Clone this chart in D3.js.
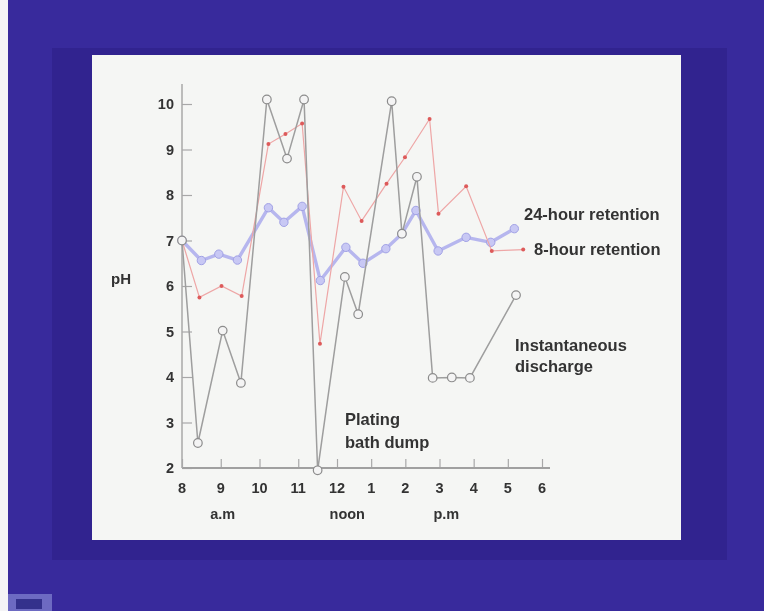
<!DOCTYPE html>
<html>
<head>
<meta charset="utf-8">
<script src="https://cdn.jsdelivr.net/npm/d3@7"></script>
<style>
  html, body { margin: 0; padding: 0; background: #382a9c; }
  svg { display: block; }
  text { font-family: "Liberation Sans", Arial, sans-serif; font-weight: bold; fill: #333; }
</style>
</head>
<body>
<div id="vis"></div>
<script>
const svgWidth = 764;
const svgHeight = 611;

// time of day in hours (13 = 1 pm), pH values
const instantTimes = [8.0, 8.41, 9.05, 9.52, 10.19, 10.71, 11.15, 11.5, 12.23, 12.62, 13.6, 13.9, 14.34, 14.8, 15.36, 15.89, 17.24];
const instantPH = [7.0, 2.55, 5.02, 3.87, 10.1, 8.8, 10.1, 1.95, 6.2, 5.38, 10.06, 7.15, 8.4, 3.98, 3.99, 3.98, 5.8];

const eightTimes = [8.0, 8.45, 9.02, 9.54, 10.23, 10.67, 11.1, 11.56, 12.19, 12.72, 13.45, 13.99, 14.71, 14.97, 15.78, 16.53, 17.45];
const eightPH = [7.0, 5.75, 6.0, 5.78, 9.12, 9.34, 9.57, 4.73, 8.18, 7.43, 8.25, 8.83, 9.67, 7.59, 8.19, 6.77, 6.8];

const dayTimes = [8.0, 8.5, 8.95, 9.43, 10.23, 10.63, 11.1, 11.57, 12.26, 12.76, 13.43, 13.9, 14.31, 14.96, 15.78, 16.5, 17.19];
const dayPH = [7.0, 6.56, 6.7, 6.57, 7.72, 7.4, 7.75, 6.12, 6.85, 6.5, 6.82, 7.15, 7.66, 6.77, 7.07, 6.96, 7.26];

const hourTicks = [8, 9, 10, 11, 12, 13, 14, 15, 16, 17, 18];
const hourLabels = ['8', '9', '10', '11', '12', '1', '2', '3', '4', '5', '6'];
const phTicks = [2, 3, 4, 5, 6, 7, 8, 9, 10];
const periodLabels = [
  { t: 9.05, text: 'a.m' },
  { t: 12.3, text: 'noon' },
  { t: 15.2, text: 'p.m' },
];

const svg = d3.select('#vis').append('svg').attr('width', svgWidth).attr('height', svgHeight);

// slide photo framing
svg.append('rect').attr('x', 0).attr('y', 0).attr('width', 8).attr('height', svgHeight).attr('fill', '#f4f4f6');
svg.append('rect').attr('x', 8).attr('y', 0).attr('width', svgWidth - 8).attr('height', svgHeight).attr('fill', '#382a9c');
svg.append('rect').attr('x', 52).attr('y', 48).attr('width', 675).attr('height', 512).attr('fill', '#31238f');
svg.append('rect').attr('x', 92).attr('y', 55).attr('width', 589).attr('height', 485).attr('fill', '#f5f6f4');
svg.append('rect').attr('x', 8).attr('y', 594).attr('width', 44).attr('height', 17).attr('fill', '#6d6ac2');
svg.append('rect').attr('x', 16).attr('y', 599).attr('width', 26).attr('height', 10).attr('fill', '#34318c');

const chart = svg.append('g').style('filter', 'blur(0.45px)');

// hand drawn axis is uneven: morning hours are wider than afternoon
const x = d3.scaleLinear().domain([8, 12, 18]).range([182, 337, 542]);
const y = d3.scaleLinear().domain([2, 10]).range([468, 104]);

const xAxis = d3.axisTop(x).tickValues(hourTicks).tickSize(9).tickFormat('');
const yAxis = d3.axisRight(y).tickValues(phTicks).tickSize(10).tickFormat('');

const gx = chart.append('g').attr('transform', `translate(0, ${y(2)})`).call(xAxis);
const gy = chart.append('g').attr('transform', `translate(${x(8)}, 0)`).call(yAxis);
[gx, gy].forEach((g) => {
  g.select('.domain').remove();
  g.selectAll('.tick line').attr('stroke', '#a8a8a8').attr('stroke-width', 1.2);
});
chart.append('line')
  .attr('x1', x(8)).attr('x2', x(18) + 8)
  .attr('y1', y(2)).attr('y2', y(2))
  .attr('stroke', '#a0a0a0').attr('stroke-width', 2);
chart.append('line')
  .attr('x1', x(8)).attr('x2', x(8))
  .attr('y1', y(2)).attr('y2', y(10) - 20)
  .attr('stroke', '#a8a8a8').attr('stroke-width', 1.5);

// tick labels
chart.selectAll('.xlab').data(hourTicks).join('text')
  .attr('x', (d) => x(d)).attr('y', y(2) + 25)
  .attr('text-anchor', 'middle').style('font-size', '14.5px')
  .text((d, i) => hourLabels[i]);
chart.selectAll('.ylab').data(phTicks).join('text')
  .attr('x', x(8) - 8).attr('y', (d) => y(d) + 5)
  .attr('text-anchor', 'end').style('font-size', '14.5px')
  .text((d) => d);
chart.selectAll('.plab').data(periodLabels).join('text')
  .attr('x', (d) => x(d.t)).attr('y', y(2) + 51)
  .attr('text-anchor', 'middle').style('font-size', '14.5px')
  .text((d) => d.text);
chart.append('text').attr('x', 111).attr('y', 284).style('font-size', '15px').text('pH');

const zip = (ts, vs) => ts.map((t, i) => ({ t, v: vs[i] }));
const line = d3.line().x((d) => x(d.t)).y((d) => y(d.v));

// 24-hour retention
const day = zip(dayTimes, dayPH);
chart.append('path').datum(day)
  .attr('fill', 'none').attr('stroke', '#b6b6ee').attr('stroke-width', 3.4)
  .attr('stroke-linejoin', 'round').attr('d', line);
chart.selectAll('.day').data(day).join('circle')
  .attr('cx', (d) => x(d.t)).attr('cy', (d) => y(d.v)).attr('r', 4.2)
  .attr('fill', '#c8c8f4').attr('stroke', '#a0a0e4').attr('stroke-width', 1);

// 8-hour retention
const eight = zip(eightTimes, eightPH);
chart.append('path').datum(eight)
  .attr('fill', 'none').attr('stroke', '#eea6a6').attr('stroke-width', 1.2).attr('d', line);
chart.selectAll('.eight').data(eight).join('circle')
  .attr('cx', (d) => x(d.t)).attr('cy', (d) => y(d.v)).attr('r', 2)
  .attr('fill', '#dd5a5a');

// instantaneous discharge
const inst = zip(instantTimes, instantPH);
chart.append('path').datum(inst)
  .attr('fill', 'none').attr('stroke', '#9e9e9e').attr('stroke-width', 1.5).attr('d', line);
chart.selectAll('.inst').data(inst).join('circle')
  .attr('cx', (d) => x(d.t)).attr('cy', (d) => y(d.v)).attr('r', 4.3)
  .attr('fill', '#f4f4f4').attr('stroke', '#8c8c8c').attr('stroke-width', 1.2);

// annotations
const notes = [
  { x: 524, y: 220, text: '24-hour retention' },
  { x: 534, y: 255, text: '8-hour retention' },
  { x: 515, y: 351, text: 'Instantaneous' },
  { x: 515, y: 372, text: 'discharge' },
  { x: 345, y: 425, text: 'Plating' },
  { x: 345, y: 448, text: 'bath dump' },
];
chart.selectAll('.note').data(notes).join('text')
  .attr('x', (d) => d.x).attr('y', (d) => d.y)
  .style('font-size', '16.5px')
  .text((d) => d.text);
</script>
</body>
</html>
